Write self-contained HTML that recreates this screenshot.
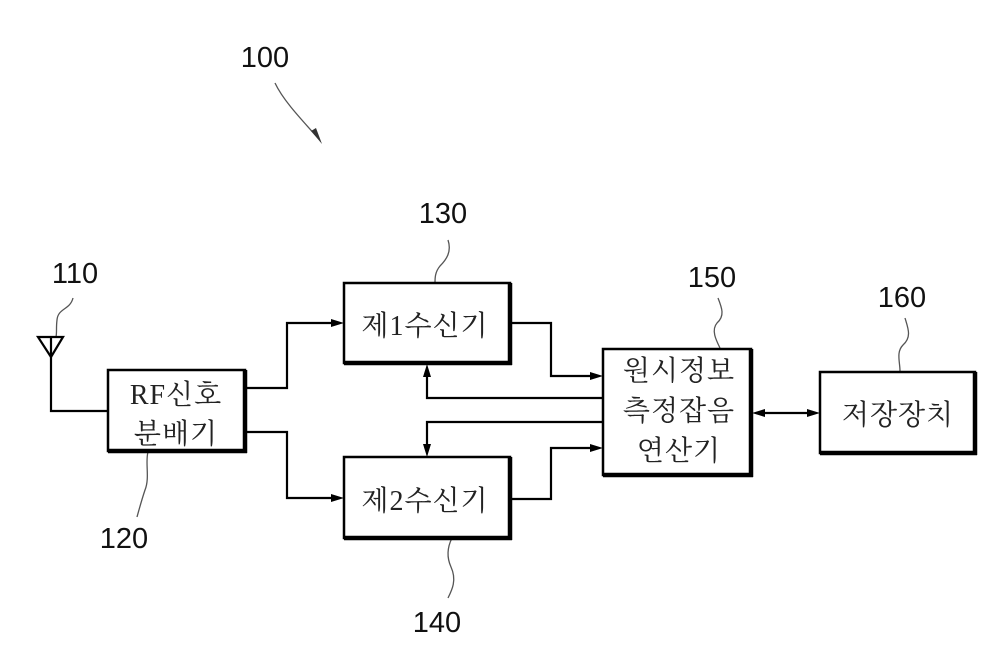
<!DOCTYPE html>
<html><head><meta charset="utf-8"><style>
html,body{margin:0;padding:0;background:#fff;}
svg{display:block;}
.n{font-family:"Liberation Sans","DejaVu Sans",sans-serif;font-size:29px;fill:#111;text-anchor:middle;}
.k{font-family:"Liberation Serif","Noto Serif CJK SC","Noto Sans CJK KR",serif;font-size:28px;fill:#222;text-anchor:middle;letter-spacing:1px;}
.ln{fill:none;stroke:#000;stroke-width:2.2;}
.bx{fill:#fff;stroke:#000;stroke-width:2.5;}
.th{stroke:#000;stroke-width:4.5;}
.ld{fill:none;stroke:#555;stroke-width:1.3;}
</style></head><body>
<svg width="1000" height="659" viewBox="0 0 1000 659" xmlns="http://www.w3.org/2000/svg">
<rect width="1000" height="659" fill="#fff"/>

<!-- numbers -->
<text class="n" x="265" y="67">100</text>
<text class="n" x="75" y="283">110</text>
<text class="n" x="124" y="548">120</text>
<text class="n" x="443" y="223">130</text>
<text class="n" x="437" y="632">140</text>
<text class="n" x="712" y="287">150</text>
<text class="n" x="902" y="307">160</text>

<!-- leaders -->
<path class="ld" d="M275,83 C283,100 300,118 318,138"/>
<polygon points="322,144 311,131 316,128" fill="#333"/>
<path class="ld" d="M73,298 C70,310 58,308 57,320 C56,328 57,332 56,337"/>
<path class="ld" d="M148,452 C145,462 150,478 145,490 C141,502 139,510 137,517"/>
<path class="ld" d="M448,240 C452,252 446,260 440,266 C435,272 435,278 435,283"/>
<path class="ld" d="M452,538 C448,546 446,556 451,567 C457,580 452,590 448,598"/>
<path class="ld" d="M718,298 C722,308 725,316 717,323 C711,330 716,340 720,348"/>
<path class="ld" d="M905,318 C908,328 912,337 903,345 C896,352 900,362 900,371"/>

<!-- antenna -->
<polygon points="38,337 63,337 51,357" fill="none" stroke="#000" stroke-width="2.2"/>
<path class="ln" d="M51,337 V411 H108"/>

<!-- connectors -->
<path class="ln" d="M245,388 H287 V323 H332"/>
<polygon points="344,323 331,319 331,327"/>
<path class="ln" d="M245,432 H287 V498 H332"/>
<polygon points="344,498 331,494 331,502"/>

<path class="ln" d="M510,323 H551 V376 H591"/>
<polygon points="603,376 590,372 590,380"/>
<path class="ln" d="M510,499 H551 V448 H591"/>
<polygon points="603,448 590,444 590,452"/>

<path class="ln" d="M603,398 H427 V376"/>
<polygon points="427,364 423,377 431,377"/>
<path class="ln" d="M603,422 H427 V445"/>
<polygon points="427,457 423,444 431,444"/>

<path class="ln" d="M763,413 H808"/>
<polygon points="752,413 765,409 765,417"/>
<polygon points="820,413 807,409 807,417"/>

<!-- boxes -->
<rect class="bx" x="108" y="370" width="137" height="81"/>
<line class="th" x1="108" y1="451" x2="247" y2="451"/>
<line class="th" x1="245" y1="370" x2="245" y2="453"/>

<rect class="bx" x="344" y="283" width="166" height="80"/>
<line class="th" x1="344" y1="363" x2="512" y2="363"/>
<line class="th" x1="510" y1="283" x2="510" y2="365"/>

<rect class="bx" x="344" y="457" width="166" height="81"/>
<line class="th" x1="344" y1="538" x2="512" y2="538"/>
<line class="th" x1="510" y1="457" x2="510" y2="540"/>

<rect class="bx" x="603" y="349" width="148" height="126"/>
<line class="th" x1="603" y1="475" x2="753" y2="475"/>
<line class="th" x1="751" y1="349" x2="751" y2="477"/>

<rect class="bx" x="820" y="372" width="155" height="81"/>
<line class="th" x1="820" y1="453" x2="977" y2="453"/>
<line class="th" x1="975" y1="372" x2="975" y2="455"/>

<!-- box labels -->
<text class="k" x="176" y="404">RF신호</text>
<text class="k" x="176" y="443">분배기</text>
<text class="k" x="425" y="335">제1수신기</text>
<text class="k" x="425" y="510">제2수신기</text>
<text class="k" x="679" y="380">원시정보</text>
<text class="k" x="679" y="420">측정잡음</text>
<text class="k" x="679" y="460">연산기</text>
<text class="k" x="898" y="424">저장장치</text>
</svg>
</body></html>
